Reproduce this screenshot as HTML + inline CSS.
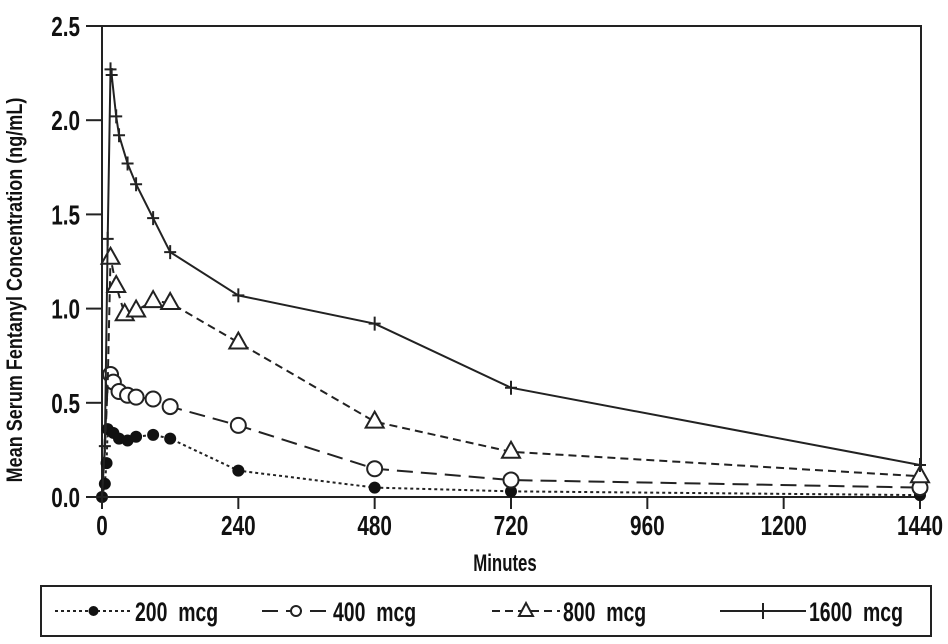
<!DOCTYPE html>
<html><head><meta charset="utf-8"><style>
body{margin:0;background:#fff;}
svg text{font-family:"Liberation Sans",sans-serif;font-weight:bold;fill:#111;white-space:pre;}
</style></head><body>
<svg id="c" width="948" height="639" xmlns="http://www.w3.org/2000/svg"></svg>
<script>
const xTicks=[0,240,480,720,960,1200,1440];
const yTicks=[0,0.5,1.0,1.5,2.0,2.5];
const t200=[0,5,8,10,20,30,45,60,90,120,240,480,720,1440];
const v200=[0,0.07,0.18,0.36,0.34,0.31,0.30,0.32,0.33,0.31,0.14,0.05,0.03,0.01];
const t400=[0,5,10,15,20,30,45,60,90,120,240,480,720,1440];
const v400=[0,0.3,0.6,0.65,0.61,0.56,0.54,0.53,0.52,0.48,0.38,0.15,0.09,0.05];
const t800=[0,5,10,15,25,40,60,90,120,240,480,720,1440];
const v800=[0,0.25,0.6,1.27,1.12,0.97,0.99,1.04,1.03,0.82,0.40,0.24,0.11];
const t1600=[0,5,10,15,17,25,30,45,60,90,120,240,480,720,1440];
const v1600=[0,0.27,1.37,2.27,2.24,2.02,1.92,1.77,1.66,1.48,1.30,1.07,0.92,0.58,0.17];
const L=102,R=920,T=26,B=497;
const X=t=>L+(R-L)*t/1440, Y=v=>B-(B-T)*v/2.5;
const s=document.getElementById('c'),NS='http://www.w3.org/2000/svg';
function el(n,a,p){const e=document.createElementNS(NS,n);for(const k in a)e.setAttribute(k,a[k]);(p||s).appendChild(e);return e;}
function txt(str,x,y,size,anchor,p,sc){
 const t=el('text',{x:0,y:0,'font-size':size,'text-anchor':anchor,transform:`translate(${x},${y}) scale(${sc||0.74},1)`},p);
 t.textContent=str;return t;}
const frame=el('rect',{x:L,y:T,width:921-L,height:B-T,fill:'none',stroke:'#222','stroke-width':2});


yTicks.forEach(v=>{
 const ln=el('line',{x1:86,x2:L,y1:Y(v),y2:Y(v),stroke:'#222','stroke-width':2});
 
 
 const tx=txt(v.toFixed(1),80,Y(v)+10,28,'end');
 
 
});
xTicks.forEach(t=>{
 const ln=el('line',{x1:X(t),x2:X(t),y1:B,y2:B+12,stroke:'#222','stroke-width':2});
 
 
 const tx=txt(String(t),X(t),535,28,'middle');
 
 
});
const xt=txt('Minutes',505,571,24,'middle',null,0.7);


const yt=el('text',{x:0,y:0,'text-anchor':'middle','font-size':22,transform:'translate(22,290) rotate(-90) scale(0.82,1)'});yt.textContent='Mean Serum Fentanyl Concentration (ng/mL)';


function marker(type,x,y,g){
 if(type==='dot')return el('circle',{cx:x,cy:y,r:6,fill:'#111'},g);
 if(type==='circ')return el('circle',{cx:x,cy:y,r:7.5,fill:'#fff',stroke:'#222','stroke-width':2},g);
 if(type==='tri')return el('path',{d:`M${x},${y-10}L${x+9},${y+6}L${x-9},${y+6}Z`,fill:'#fff',stroke:'#222','stroke-width':2},g);
 return el('path',{d:`M${x-6},${y}H${x+6}M${x},${y-7}V${y+7}`,stroke:'#222','stroke-width':2},g);
}
const series=[[t200,v200,'3,3','dot','series-200-mcg'],[t400,v400,'16,8','circ','series-400-mcg'],[t800,v800,'8,5','tri','series-800-mcg'],[t1600,v1600,'','plus','series-1600-mcg']];
series.forEach(([ts,vs,da,m,name])=>{
 const g=el('g',{});
 
 
 const p=el('polyline',{points:ts.map((t,i)=>X(t)+','+Y(vs[i])).join(' '),fill:'none',stroke:'#222','stroke-width':2,'stroke-dasharray':da},g);
 
 
 ts.forEach((t,i)=>{
  if((m==='circ'||m==='tri')&&t<15)return;
  const mk=marker(m,X(t),Y(vs[i]),g);
  
  });
});
const lg=el('g',{});


el('rect',{x:41,y:586,width:890,height:50,fill:'#fff',stroke:'#222','stroke-width':2},lg);
const items=[[55,132,'3,3','dot','200  mcg'],[262,330,'16,8','circ','400  mcg'],[492,560,'8,5','tri','800  mcg'],[720,806,'','plus','1600  mcg']];
items.forEach(([x1,x2,da,m,lab])=>{
 const g=el('g',{},lg);
 
 
 el('line',{x1:x1,x2:x2,y1:611,y2:611,stroke:'#222','stroke-width':2,'stroke-dasharray':da},g);
 const cx=(x1+x2)/2;
 if(m==='circ')el('circle',{cx:cx,cy:611,r:5,fill:'#fff',stroke:'#222','stroke-width':2},g);
 else if(m==='tri')el('path',{d:`M${cx},603L${cx+7},616L${cx-7},616Z`,fill:'#fff',stroke:'#222','stroke-width':2},g);
 else if(m==='dot')el('circle',{cx:cx,cy:611,r:5,fill:'#111'},g);
 else el('line',{x1:cx,x2:cx,y1:603,y2:619,stroke:'#222','stroke-width':2},g);
 const tx=txt(lab,x2+3,621,27,'start',g,0.72);
 
 
});
</script>
</body></html>
